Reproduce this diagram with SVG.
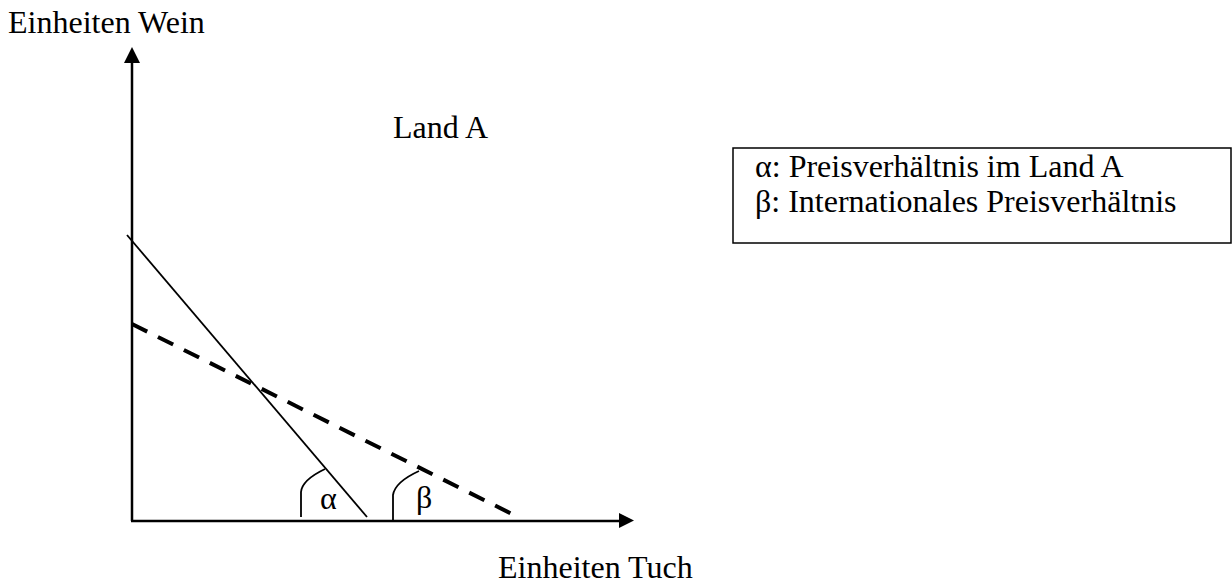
<svg xmlns="http://www.w3.org/2000/svg" width="1232" height="584" viewBox="0 0 1232 584">
<style>
text{font-family:"Liberation Serif","Times New Roman",serif;font-size:32px;fill:#000}
.ax{stroke:#000;stroke-width:2.5;fill:none}
.ln{stroke:#000;stroke-width:1.8;fill:none}
.dash{stroke:#000;stroke-width:4;fill:none;stroke-dasharray:17 12}
</style>
<rect width="1232" height="584" fill="#fff"/>
<g id="axes">
<line class="ax" x1="132" y1="521" x2="132" y2="60"/>
<polygon points="132,47 124,63 140,63" fill="#000"/>
<line class="ax" x1="131" y1="521" x2="622" y2="521"/>
<polygon points="634,520.5 619,513 619,528" fill="#000"/>
</g>
<g id="lines">
<line class="ln" x1="127" y1="235" x2="367" y2="517"/>
<line class="dash" x1="132" y1="324" x2="520" y2="518"/>
<path class="ln" d="M301,517 L301,492 Q302,480 325,469"/>
<path class="ln" d="M393,520 L393,495 Q395,482 419,471"/>
</g>
<g id="labels">
<text x="8" y="33">Einheiten Wein</text>
<text x="393" y="138">Land A</text>
<text x="498" y="578">Einheiten Tuch</text>
<text x="320" y="509">α</text>
<text x="416" y="508">β</text>
</g>
<g id="legend">
<rect x="733" y="148" width="498" height="95" fill="none" stroke="#000" stroke-width="1.5"/>
<text x="755" y="177">α: Preisverhältnis im Land A</text>
<text x="755" y="212">β: Internationales Preisverhältnis</text>
</g>
</svg>
